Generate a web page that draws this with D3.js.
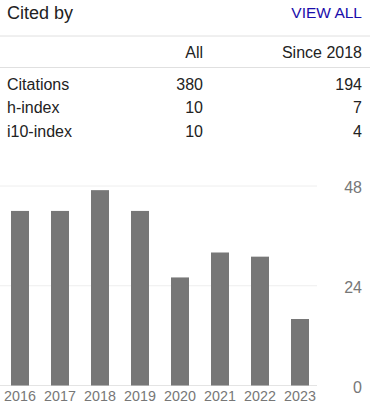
<!DOCTYPE html>
<html>
<head>
<meta charset="utf-8">
<script src="https://cdn.jsdelivr.net/npm/d3@7"></script>
<style>
  body { margin: 0; background: #fff; }
  svg { display: block; font-family: Arial, 'Liberation Sans', sans-serif; }
</style>
</head>
<body>
<script>
let years = ['2016', '2017', '2018', '2019', '2020', '2021', '2022', '2023']
let citations = [42, 42, 47, 42, 26, 32, 31, 16]
let yTicks = [0, 24, 48]

let rowLabels = ['Citations', 'h-index', 'i10-index']
let allValues = [380, 10, 10]
let sinceValues = [194, 7, 4]
let columnLabels = ['All', 'Since 2018']

let width = 370
let height = 409

let svg = d3.select('body').append('svg')
  .attr('width', width)
  .attr('height', height)

// header
svg.append('text')
  .attr('x', 7)
  .attr('y', 19)
  .attr('font-size', 18)
  .attr('fill', '#222')
  .text('Cited by')

svg.append('text')
  .attr('x', 362)
  .attr('y', 17.5)
  .attr('text-anchor', 'end')
  .attr('font-size', 15.5)
  .attr('fill', '#1a0dab')
  .text('VIEW ALL')

svg.selectAll('.divider')
  .data([36, 67.5])
  .enter().append('line')
    .attr('class', 'divider')
    .attr('x1', 0)
    .attr('x2', width)
    .attr('y1', (d) => d)
    .attr('y2', (d) => d)
    .attr('stroke', '#e0e0e0')
    .attr('stroke-width', 1)

// table
let colX = [203, 362]
svg.selectAll('.colhead')
  .data(columnLabels)
  .enter().append('text')
    .attr('class', 'colhead')
    .attr('x', (d, i) => colX[i])
    .attr('y', 57.5)
    .attr('text-anchor', 'end')
    .attr('font-size', 16)
    .attr('fill', '#222')
    .text((d) => d)

let rowY = d3.scalePoint()
  .domain(rowLabels)
  .range([90, 136.5])

let rows = svg.selectAll('.row')
  .data(rowLabels.map((d, i) => ({ label: d, all: allValues[i], since: sinceValues[i] })))
  .enter().append('g')
    .attr('class', 'row')
    .attr('transform', (d) => 'translate(0,' + rowY(d.label) + ')')
    .attr('font-size', 16)
    .attr('fill', '#222')

rows.append('text')
  .attr('x', 7)
  .text((d) => d.label)

rows.append('text')
  .attr('x', colX[0])
  .attr('text-anchor', 'end')
  .text((d) => d.all)

rows.append('text')
  .attr('x', colX[1])
  .attr('text-anchor', 'end')
  .text((d) => d.since)

// chart
let x = d3.scaleBand()
  .domain(years)
  .range([0, 320])
  .paddingInner(0.55)
  .paddingOuter(0.275)

let y = d3.scaleLinear()
  .domain([0, 48])
  .range([385.5, 186])

svg.selectAll('.grid')
  .data(yTicks)
  .enter().append('line')
    .attr('class', 'grid')
    .attr('x1', 0)
    .attr('x2', 317)
    .attr('y1', (d) => y(d))
    .attr('y2', (d) => y(d))
    .attr('stroke', (d) => d === 0 ? '#e4e4e4' : '#eeeeee')
    .attr('stroke-width', 1)

svg.selectAll('.bar')
  .data(citations)
  .enter().append('rect')
    .attr('class', 'bar')
    .attr('x', (d, i) => x(years[i]))
    .attr('width', x.bandwidth())
    .attr('y', (d) => y(d))
    .attr('height', (d) => y(0) - y(d))
    .attr('fill', '#777')

svg.selectAll('.ylabel')
  .data(yTicks)
  .enter().append('text')
    .attr('class', 'ylabel')
    .attr('x', 362)
    .attr('y', (d) => y(d) + 7)
    .attr('text-anchor', 'end')
    .attr('font-size', 16)
    .attr('fill', '#777')
    .text((d) => d)

svg.selectAll('.xlabel')
  .data(years)
  .enter().append('text')
    .attr('class', 'xlabel')
    .attr('x', (d) => x(d) + x.bandwidth() / 2)
    .attr('y', 401)
    .attr('text-anchor', 'middle')
    .attr('font-size', 14.3)
    .attr('fill', '#777')
    .text((d) => d)
</script>
</body>
</html>
